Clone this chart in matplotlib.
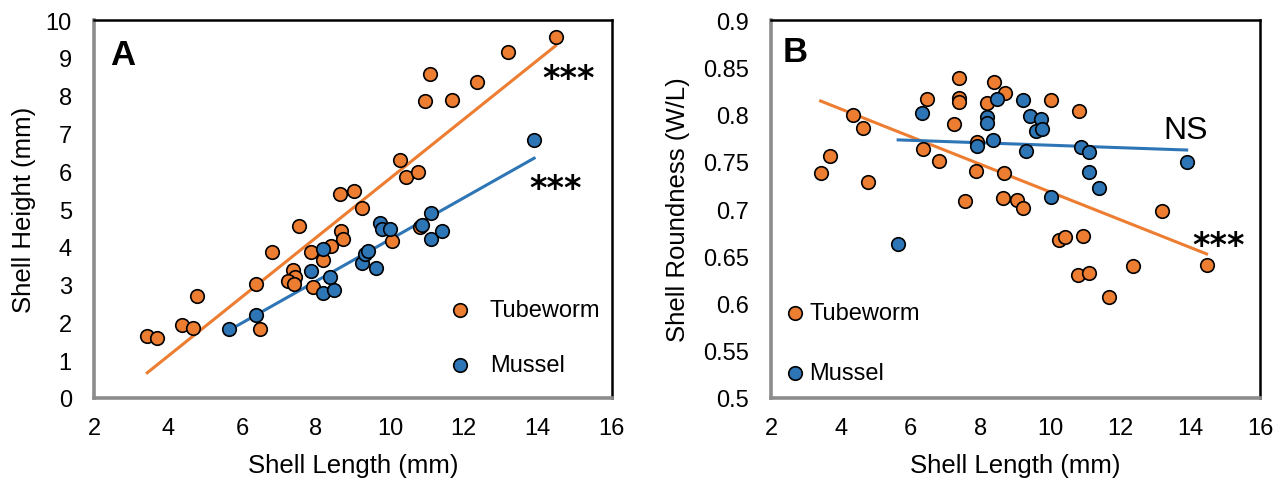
import numpy as np
from matplotlib import pyplot as plt

plt.rcParams['font.family'] = ['Liberation Sans', 'DejaVu Sans']

# panel A - shell height vs length
tube_len_a = [14.48, 13.2, 12.36, 11.08, 10.95, 11.68, 10.27, 10.43, 10.76, 8.65, 9.04,
              9.24, 7.54, 6.82, 7.88, 8.41, 8.67, 8.72, 8.2, 7.39, 7.43, 7.24, 7.41,
              7.93, 6.37, 4.78, 4.37, 4.68, 3.44, 3.71, 6.49, 10.05, 10.81]
tube_hgt_a = [9.54, 9.15, 8.37, 8.57, 7.87, 7.89, 6.30, 5.84, 5.97, 5.40, 5.48,
              5.03, 4.54, 3.87, 3.87, 4.03, 4.41, 4.21, 3.65, 3.39, 3.21, 3.10, 3.02,
              2.93, 3.02, 2.69, 1.93, 1.84, 1.65, 1.59, 1.83, 4.15, 4.52]
mus_len_a = [13.9, 11.1, 5.66, 6.37, 7.88, 8.18, 8.38, 8.2, 8.49, 9.24, 9.32,
             9.41, 9.62, 9.73, 9.78, 10.0, 10.88, 11.11, 11.4]
mus_hgt_a = [6.83, 4.89, 1.83, 2.20, 3.37, 3.94, 3.19, 2.77, 2.87, 3.56, 3.81,
             3.90, 3.44, 4.63, 4.47, 4.47, 4.58, 4.21, 4.43]

# panel B - roundness vs length
tube_len_b = [7.38, 8.39, 8.70, 6.46, 7.39, 7.38, 8.18, 10.02, 10.83, 4.36, 4.64,
              7.24, 7.91, 6.36, 6.82, 3.69, 3.42, 4.77, 7.87, 8.67, 7.55, 8.63,
              9.03, 9.22, 13.19, 10.25, 10.42, 10.92, 10.78, 11.10, 12.35, 11.68, 14.47]
tube_rnd_b = [0.839, 0.834, 0.823, 0.816, 0.818, 0.813, 0.812, 0.815, 0.804, 0.799, 0.786,
              0.790, 0.771, 0.763, 0.751, 0.756, 0.738, 0.729, 0.740, 0.738, 0.7085, 0.712,
              0.710, 0.7015, 0.698, 0.667, 0.670, 0.671, 0.630, 0.632, 0.640, 0.607, 0.641]
mus_len_b = [8.46, 9.22, 6.33, 8.18, 8.18, 9.41, 9.73, 9.59, 9.76, 8.36, 7.89,
             9.29, 10.87, 11.11, 11.11, 11.40, 13.9, 10.01, 5.64]
mus_rnd_b = [0.816, 0.815, 0.802, 0.797, 0.791, 0.798, 0.795, 0.783, 0.785, 0.773, 0.767,
             0.7615, 0.766, 0.760, 0.739, 0.7227, 0.750, 0.713, 0.663]

xticks = [2, 4, 6, 8, 10, 12, 14, 16]
yticks_a = [0, 1, 2, 3, 4, 5, 6, 7, 8, 9, 10]
yticks_b = [0.5, 0.55, 0.6, 0.65, 0.7, 0.75, 0.8, 0.85, 0.9]
ytick_labels_b = ['0.5', '0.55', '0.6', '0.65', '0.7', '0.75', '0.8', '0.85', '0.9']

orange = '#ED7D31'
blue = '#2E75B6'

fig = plt.figure(figsize=(12.88, 4.81), dpi=100)
axA = fig.add_axes([0.073, 0.1705, 0.402, 0.7858])
axB = fig.add_axes([0.5986, 0.1705, 0.3797, 0.7858])


def trend(ax, x, y, c):
    x = np.array(x)
    k, b = np.polyfit(x, y, 1)
    xs = np.array([x.min(), x.max()])
    ax.plot(xs, k * xs + b, color=c, lw=2.2, zorder=2)


def style(ax):
    for s in ['left', 'bottom']:
        ax.spines[s].set_color('#8c8c8c')
        ax.spines[s].set_linewidth(2.6)
    for s in ['top', 'right']:
        ax.spines[s].set_color('black')
        ax.spines[s].set_linewidth(1.8)
    ax.tick_params(length=0, labelsize=17)
    ax.tick_params(axis='x', pad=14)
    ax.tick_params(axis='y', pad=16)
    ax.set_xticks(xticks)
    ax.set_xlim(2, 16)
    ax.set_xlabel('Shell Length (mm)', fontsize=18.5, labelpad=10)


def stars(ax, x, y):
    ax.text(x, y, '***', transform=ax.transAxes, fontsize=24, fontweight='bold',
            family='DejaVu Sans', va='baseline')


# A
axA.scatter(tube_len_a, tube_hgt_a, s=95, color=orange, edgecolors='black', linewidths=1.2, zorder=3, label='Tubeworm')
axA.scatter(mus_len_a, mus_hgt_a, s=95, color=blue, edgecolors='black', linewidths=1.2, zorder=3, label='Mussel')
trend(axA, tube_len_a, tube_hgt_a, orange)
trend(axA, mus_len_a, mus_hgt_a, blue)
style(axA)
axA.set_ylim(0, 10)
axA.set_yticks(yticks_a)
axA.set_ylabel('Shell Height (mm)', fontsize=18.5, labelpad=7)
axA.text(0.031, 0.8836, 'A', transform=axA.transAxes, fontsize=25, fontweight='bold', va='baseline')
stars(axA, 0.866, 0.819)
stars(axA, 0.841, 0.528)
axA.legend(loc='upper left', bbox_to_anchor=(0.684, 0.262), frameon=False, fontsize=17,
           labelspacing=1.4, handlelength=1.0, handletextpad=0.77, borderpad=0, borderaxespad=0)

# B
axB.scatter(tube_len_b, tube_rnd_b, s=95, color=orange, edgecolors='black', linewidths=1.2, zorder=3, label='Tubeworm')
axB.scatter(mus_len_b, mus_rnd_b, s=95, color=blue, edgecolors='black', linewidths=1.2, zorder=3, label='Mussel')
trend(axB, tube_len_b, tube_rnd_b, orange)
trend(axB, mus_len_b, mus_rnd_b, blue)
style(axB)
axB.set_ylim(0.5, 0.9)
axB.set_yticks(yticks_b)
axB.set_yticklabels(ytick_labels_b)
axB.set_ylabel('Shell Roundness (W/L)', fontsize=18.5, labelpad=9)
axB.text(0.024, 0.891, 'B', transform=axB.transAxes, fontsize=25, fontweight='bold', va='baseline')
axB.text(0.8016, 0.687, 'NS', transform=axB.transAxes, fontsize=23, va='baseline')
stars(axB, 0.862, 0.379)
axB.legend(loc='upper left', bbox_to_anchor=(0.0348, 0.253), frameon=False, fontsize=17,
           labelspacing=1.6, handlelength=0.6, handletextpad=0.3, borderpad=0, borderaxespad=0)

fig.savefig('out.png', dpi=100)
